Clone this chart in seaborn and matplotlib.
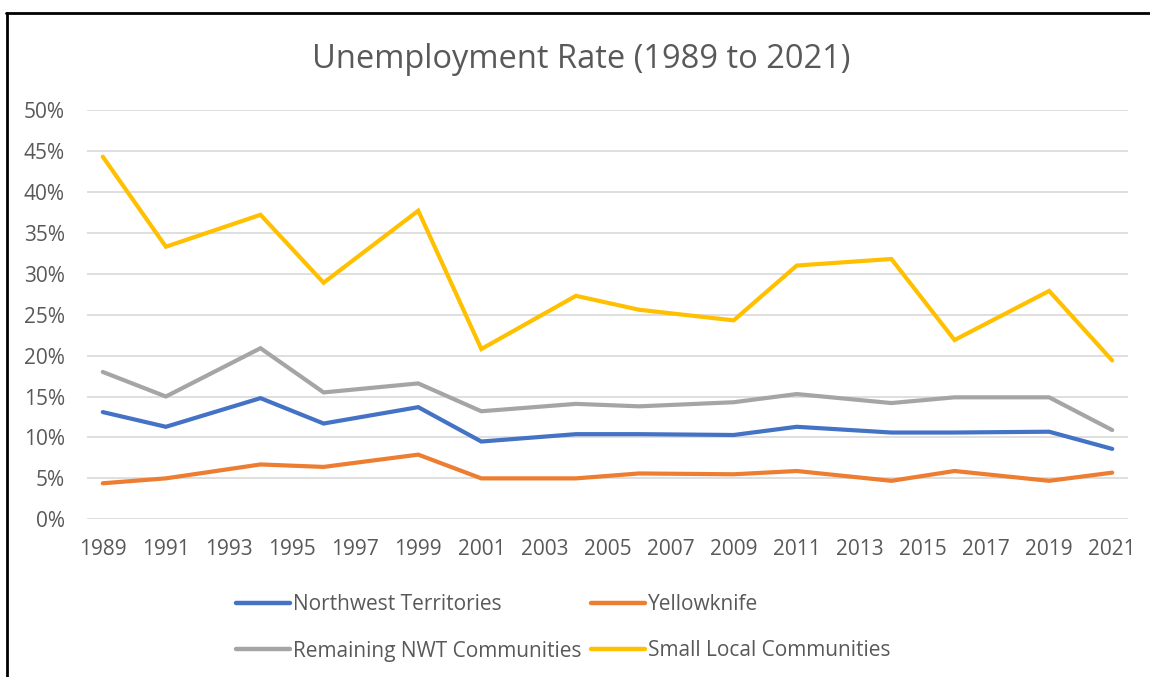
import matplotlib
matplotlib.use("Agg")
import matplotlib.pyplot as plt
import seaborn as sns
import pandas as pd
from matplotlib.lines import Line2D

years = [1989, 1991, 1994, 1996, 1999, 2001, 2004, 2006, 2009, 2011, 2014, 2016, 2019, 2021]
nwt = [13.1, 11.3, 14.8, 11.7, 13.7, 9.5, 10.4, 10.4, 10.3, 11.3, 10.6, 10.6, 10.7, 8.6]
yellowknife = [4.4, 5.0, 6.7, 6.4, 7.9, 5.0, 5.0, 5.6, 5.5, 5.9, 4.7, 5.9, 4.7, 5.7]
remaining = [18.0, 15.0, 20.9, 15.5, 16.6, 13.2, 14.1, 13.8, 14.3, 15.3, 14.2, 14.9, 14.9, 10.9]
small_local = [44.3, 33.3, 37.2, 28.9, 37.7, 20.8, 27.3, 25.6, 24.3, 31.0, 31.8, 21.9, 27.9, 19.4]
series_names = ["Northwest Territories", "Yellowknife", "Remaining NWT Communities", "Small Local Communities"]
colors = ["#4472C4", "#ED7D31", "#A5A5A5", "#FFC000"]
xticks = list(range(1989, 2022, 2))
yticks = [0, 5, 10, 15, 20, 25, 30, 35, 40, 45, 50]

rows = []
for name, vals in zip(series_names, [nwt, yellowknife, remaining, small_local]):
    for y, v in zip(years, vals):
        rows.append({"Year": y, "Rate": v / 100.0, "Series": name})
df = pd.DataFrame(rows)

sns.set_theme(style="white")
plt.rcParams["font.family"] = ["Open Sans", "DejaVu Sans"]

fig = plt.figure(figsize=(11.5, 6.77), dpi=100)
ax = fig.add_axes([87/1150, 1 - 519.3/677, (1128-87)/1150, (519.3-110)/677])

sns.lineplot(data=df, x="Year", y="Rate", hue="Series", hue_order=series_names,
             palette=colors, linewidth=3, ax=ax, legend=False, zorder=3)
for l in ax.lines:
    l.set_solid_capstyle("round")
    l.set_solid_joinstyle("miter")

ax.set_xlim(1988.5, 2021.5)
ax.set_ylim(0, 0.5)
ax.set_xticks(xticks)
ax.set_xticklabels([str(t) for t in xticks])
ax.set_yticks([t/100 for t in yticks])
ax.set_yticklabels([f"{t}%" for t in yticks])
ax.yaxis.grid(True, color="#D9D9D9", linewidth=1.2)
ax.xaxis.grid(False)
for s in ax.spines.values():
    s.set_visible(False)
ax.tick_params(axis="both", length=0, labelsize=15, colors="#595959")
ax.tick_params(axis="y", pad=16)
ax.tick_params(axis="x", pad=14)
ax.set_xlabel("")
ax.set_ylabel("")

fig.text(0.505, 1 - 59/677, "Unemployment Rate (1989 to 2021)", ha="center", va="center",
         fontsize=23.5, color="#595959")

handles = [Line2D([0], [0], color=c, lw=3.2, solid_capstyle="round") for c in colors]
order = [0, 2, 1, 3]
fig.legend([handles[i] for i in order], [series_names[i] for i in order], ncol=2, loc="center left",
           bbox_to_anchor=(217/1150, 1 - 628/677), frameon=False, fontsize=15,
           labelcolor="#595959", handlelength=2.6, handletextpad=0.15,
           columnspacing=0.45, labelspacing=1.2)

# screenshot border (top and left)
fig.add_artist(Line2D([6/1150, 1.0], [1 - 13/677, 1 - 13/677], color="black", lw=2, transform=fig.transFigure))
fig.add_artist(Line2D([7/1150, 7/1150], [0, 1 - 13/677], color="black", lw=2, transform=fig.transFigure))

fig.savefig("out.png", dpi=100)
